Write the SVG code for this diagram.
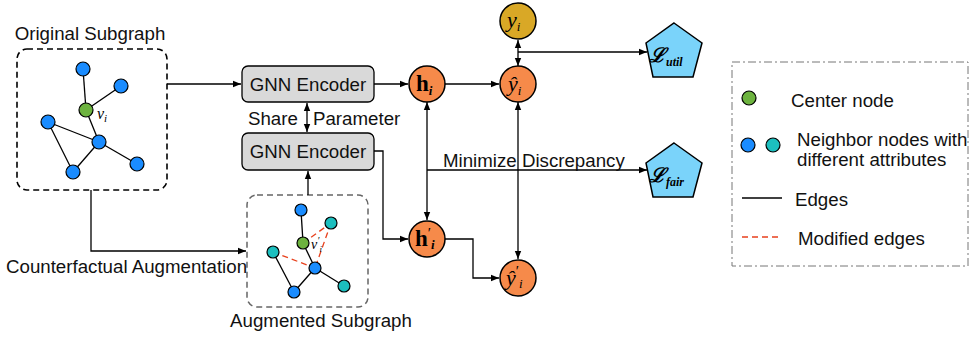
<svg xmlns="http://www.w3.org/2000/svg" width="971" height="339" viewBox="0 0 971 339">
<defs>
<marker id="ah" viewBox="0 0 10 10" refX="10" refY="5" markerWidth="9" markerHeight="8" orient="auto-start-reverse" markerUnits="userSpaceOnUse"><path d="M0,1 L10,5 L0,9 z" fill="#000"/></marker>
</defs>
<style>
.lbl{font-family:"Liberation Sans",Arial,sans-serif;font-size:18.7px;fill:#111}
.conn{fill:none;stroke:#000;stroke-width:1.3}
.edge{stroke:#000;stroke-width:1.3}
.redge{stroke:#e8401c;stroke-width:1.3;stroke-dasharray:6,4}
.blue{fill:#1a8cff;stroke:#000;stroke-width:1.2}
.teal{fill:#1cbfbf;stroke:#000;stroke-width:1.2}
.green{fill:#6db33f;stroke:#000;stroke-width:1.2}
.enc{fill:#d9d9d9;stroke:#000;stroke-width:1.3}
.orange{fill:#f68a4a;stroke:#000;stroke-width:1.5}
.gold{fill:#d9a826;stroke:#000;stroke-width:1.5}
.pent{fill:#7ad3fa;stroke:#000;stroke-width:1.5}
.math{font-family:"Liberation Serif","DejaVu Serif",serif;fill:#000}
</style>

<g id="original-subgraph">
<text class="lbl" x="90" y="40" text-anchor="middle">Original Subgraph</text>
<rect x="17" y="49" width="150" height="141" rx="10" fill="none" stroke="#000" stroke-width="1.6" stroke-dasharray="6,4"/>
<line class="edge" x1="83" y1="69" x2="86" y2="110"/>
<line class="edge" x1="121" y1="86" x2="86" y2="110"/>
<line class="edge" x1="86" y1="110" x2="99" y2="142"/>
<line class="edge" x1="48" y1="122" x2="99" y2="142"/>
<line class="edge" x1="48" y1="122" x2="73" y2="172"/>
<line class="edge" x1="73" y1="172" x2="99" y2="142"/>
<line class="edge" x1="99" y1="142" x2="137" y2="164"/>
<circle class="blue" cx="83" cy="69" r="7"/>
<circle class="blue" cx="121" cy="86" r="7"/>
<circle class="green" cx="86" cy="110" r="7"/>
<circle class="blue" cx="48" cy="122" r="7"/>
<circle class="blue" cx="99" cy="142" r="7"/>
<circle class="blue" cx="73" cy="172" r="7"/>
<circle class="blue" cx="137" cy="164" r="7"/>
<text class="math" x="97" y="119" font-size="16" font-style="italic" fill="#333">v<tspan font-size="11" dy="3">i</tspan></text>
</g>

<g id="augmented-subgraph">
<rect x="247" y="195" width="121" height="112" rx="10" fill="none" stroke="#666" stroke-width="1.5" stroke-dasharray="6,4"/>
<line class="edge" x1="301" y1="210" x2="303" y2="243"/>
<line class="edge" x1="303" y1="243" x2="315" y2="268"/>
<line class="edge" x1="273" y1="252" x2="294" y2="292"/>
<line class="edge" x1="294" y1="292" x2="315" y2="268"/>
<line class="edge" x1="315" y1="268" x2="344" y2="286"/>
<line class="redge" x1="303" y1="243" x2="331" y2="223"/>
<line class="redge" x1="331" y1="223" x2="315" y2="268"/>
<line class="redge" x1="273" y1="252" x2="315" y2="268"/>
<circle class="blue" cx="301" cy="210" r="6"/>
<circle class="teal" cx="331" cy="223" r="6"/>
<circle class="green" cx="303" cy="243" r="6"/>
<circle class="teal" cx="273" cy="252" r="6"/>
<circle class="blue" cx="315" cy="268" r="6"/>
<circle class="blue" cx="294" cy="292" r="6"/>
<circle class="teal" cx="344" cy="286" r="6"/>
<text class="math" x="311" y="249" font-size="14" font-style="italic" fill="#444">v<tspan font-size="10" dy="-5">′</tspan><tspan font-size="9" dy="8">i</tspan></text>
<text class="lbl" x="321" y="327" text-anchor="middle">Augmented Subgraph</text>
</g>

<g id="gnn-encoder-1">
<rect class="enc" x="242" y="66" width="132" height="36" rx="6"/>
<text class="lbl" x="308" y="91" text-anchor="middle">GNN Encoder</text>
</g>

<g id="gnn-encoder-2">
<rect class="enc" x="242" y="133" width="132" height="37" rx="6"/>
<text class="lbl" x="308" y="158" text-anchor="middle">GNN Encoder</text>
</g>

<g id="share-parameter">
<text class="lbl" x="248" y="125">Share</text>
<text class="lbl" x="313" y="125">Parameter</text>
</g>

<g id="h-i">
<circle class="orange" cx="427" cy="84" r="18"/>
<text class="math" x="416" y="91" font-size="23" font-weight="bold">h<tspan font-size="13" font-style="italic" dy="4">i</tspan></text>
</g>

<g id="h-i-prime">
<circle class="orange" cx="427" cy="239" r="18"/>
<text class="math" x="415" y="246" font-size="23" font-weight="bold">h<tspan font-size="15" font-weight="normal" dy="-8">′</tspan><tspan font-size="13" font-style="italic" dy="11">i</tspan></text>
</g>

<g id="y-hat-i">
<circle class="orange" cx="518" cy="84" r="18"/>
<text class="math" x="508" y="91" font-size="22" font-style="italic">ŷ<tspan font-size="13" dy="4">i</tspan></text>
</g>

<g id="y-hat-i-prime">
<circle class="orange" cx="518" cy="278" r="18"/>
<text class="math" x="506" y="285" font-size="22" font-style="italic">ŷ<tspan font-size="15" font-style="normal" dy="-9">′</tspan><tspan font-size="13" dy="12">i</tspan></text>
</g>

<g id="y-i">
<circle class="gold" cx="518" cy="21" r="18"/>
<text class="math" x="507" y="27" font-size="22" font-style="italic">y<tspan font-size="13" dy="4">i</tspan></text>
</g>

<g id="l-util">
<polygon class="pent" points="674,23 702,43 693,77 653,77 646,43"/>
<text class="math" x="649" y="62" font-size="20" font-style="italic" font-weight="bold">ℒ<tspan font-size="12" dy="4">util</tspan></text>
</g>

<g id="l-fair">
<polygon class="pent" points="674,143 702,163 693,197 653,197 646,163"/>
<text class="math" x="649" y="182" font-size="20" font-style="italic" font-weight="bold">ℒ<tspan font-size="12" dy="4">fair</tspan></text>
</g>

<g id="connectors">
<path class="conn" d="M167,84 H241" marker-end="url(#ah)"/>
<path class="conn" d="M374,84 H408" marker-end="url(#ah)"/>
<path class="conn" d="M445,84 H499" marker-end="url(#ah)"/>
<path class="conn" d="M518,66 V40" marker-start="url(#ah)" marker-end="url(#ah)"/>
<path class="conn" d="M518,52 H647" marker-end="url(#ah)"/>
<path class="conn" d="M307,103 V132" marker-start="url(#ah)" marker-end="url(#ah)"/>
<path class="conn" d="M374,151 H383 V239 H408" marker-end="url(#ah)"/>
<path class="conn" d="M308,195 V171" marker-end="url(#ah)"/>
<path class="conn" d="M91,190 V251 H246" marker-end="url(#ah)"/>
<path class="conn" d="M427,102 V220" marker-start="url(#ah)" marker-end="url(#ah)"/>
<path class="conn" d="M518,102 V259" marker-start="url(#ah)" marker-end="url(#ah)"/>
<path class="conn" d="M427,170 H647" marker-end="url(#ah)"/>
<path class="conn" d="M445,239 H473 V278 H499" marker-end="url(#ah)"/>
</g>

<g id="connector-labels">
<text class="lbl" x="443" y="167">Minimize Discrepancy</text>
<text class="lbl" x="6" y="273">Counterfactual Augmentation</text>
</g>

<g id="legend">
<rect x="732" y="62" width="236" height="204" fill="none" stroke="#777" stroke-width="1" stroke-dasharray="8,3,2,3"/>
<circle class="green" cx="749" cy="98" r="7"/>
<text class="lbl" x="791" y="107">Center node</text>
<circle class="blue" cx="748" cy="145" r="7"/>
<circle class="teal" cx="773" cy="145" r="7"/>
<text class="lbl" x="797" y="146">Neighbor nodes with</text>
<text class="lbl" x="797" y="166">different attributes</text>
<line class="edge" x1="742" y1="198" x2="782" y2="198"/>
<text class="lbl" x="795" y="206">Edges</text>
<line class="redge" x1="742" y1="237" x2="782" y2="237"/>
<text class="lbl" x="798" y="245">Modified edges</text>
</g>
</svg>
